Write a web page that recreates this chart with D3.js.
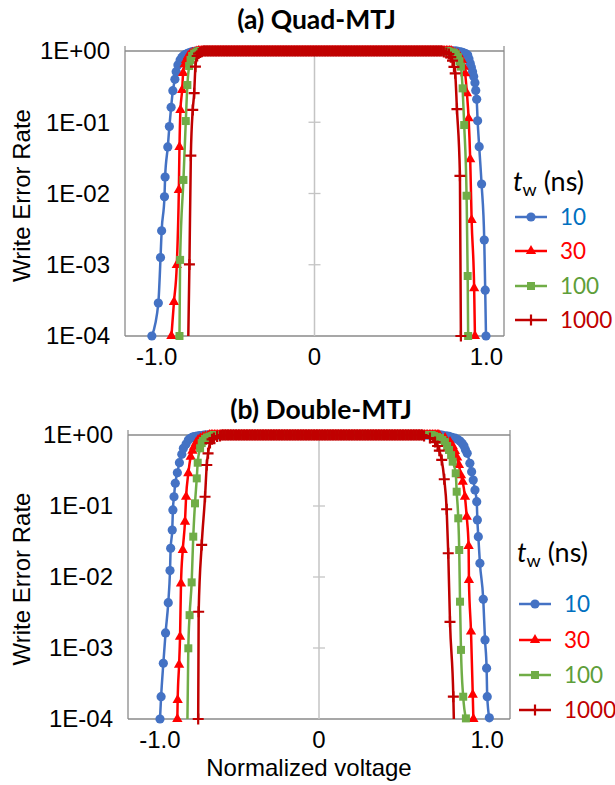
<!DOCTYPE html>
<html><head><meta charset="utf-8">
<script src="https://cdn.jsdelivr.net/npm/d3@7"></script>
<style>body{margin:0;background:#fff}svg{display:block}</style>
</head><body>
<svg id="chart" width="615" height="785"></svg>
<script>
// ---------------- DATA (normalized voltage, write error rate) ----------------
const seriesNames = ["10", "30", "100", "1000"];   // t_w (ns)
const yTickValues = [1, 1e-1, 1e-2, 1e-3, 1e-4];
const yTickLabels = ["1E+00", "1E-01", "1E-02", "1E-03", "1E-04"];
const xTickValues = [-1.2, -0.6, 0, 0.6, 1.2];
const xLabelValues = [-1.0, 0, 1.0];
const xLabelTexts = ["-1.0", "0", "1.0"];
const plateauWER = 1;      // flat top of every curve (1E+00)
const plateauStep = 0.01;  // voltage spacing of the points along the flat top

// (a) Quad-MTJ
const quad10V = [-1.030,-0.989,-0.975,-0.968,-0.950,-0.946,-0.929,-0.919,-0.908,-0.897,-0.884,-0.876,-0.865,-0.851,-0.840,-0.832,-0.820,-0.806,-0.795,-0.781,-0.770,-0.760,-0.749,
  0.908,0.920,0.930,0.940,0.950,0.960,0.970,0.978,0.986,0.993,1.001,1.008,1.016,1.021,1.027,1.033,1.043,1.058,1.075,1.081,1.086];
const quad10W = [1.0e-4,2.9e-4,1.26e-3,3.0e-3,9.0e-3,1.7e-2,4.5e-2,8.7e-2,0.162,0.277,0.401,0.512,0.637,0.748,0.81,0.851,0.89,0.923,0.945,0.968,0.98,0.988,0.99,
  0.984,0.975,0.965,0.953,0.93,0.91,0.879,0.78,0.671,0.59,0.512,0.44,0.359,0.28,0.210,0.105,0.0454,0.0136,2.22e-3,4.4e-4,1.0e-4];
const quad30V = [-0.906,-0.890,-0.872,-0.859,-0.855,-0.849,-0.838,-0.832,-0.822,-0.813,-0.800,-0.787,-0.772,-0.756,-0.745,
  0.876,0.890,0.908,0.920,0.933,0.945,0.954,0.965,0.976,0.986,0.995,1.011,1.016];
const quad30W = [1.0e-4,3.0e-4,9.9e-4,1.12e-2,4.5e-2,0.149,0.284,0.491,0.65,0.748,0.85,0.908,0.95,0.968,0.985,
  0.968,0.94,0.908,0.83,0.748,0.6,0.486,0.256,0.1135,0.0302,4.25e-3,4.68e-4,1.0e-4];
const quad100V = [-0.855,-0.851,-0.830,-0.815,-0.805,-0.794,-0.785,-0.775,-0.762,-0.749,-0.738,
  0.851,0.870,0.883,0.895,0.908,0.918,0.927,0.938,0.948,0.963,0.970,0.973];
const quad100W = [1.0e-4,1.17e-3,1.55e-2,0.104,0.333,0.615,0.75,0.851,0.92,0.953,0.98,
  0.977,0.96,0.937,0.9,0.824,0.72,0.603,0.299,0.0914,9.3e-3,6.95e-4,1.0e-4];
const quad1000V = [-0.800,-0.792,-0.783,-0.771,-0.762,-0.754,-0.743,-0.734,-0.724,-0.714,
  0.819,0.835,0.851,0.863,0.874,0.883,0.891,0.902,0.921,0.927];
const quad1000W = [7.5e-5,1.01e-3,3.4e-2,0.149,0.256,0.603,0.851,0.92,0.953,0.975,
  0.968,0.94,0.908,0.82,0.731,0.6,0.486,0.153,1.77e-2,1.0e-4];

// (b) Double-MTJ
const dbl10V = [-0.999,-0.992,-0.978,-0.964,-0.947,-0.936,-0.932,-0.922,-0.918,-0.911,-0.903,-0.890,-0.877,-0.862,-0.852,-0.835,-0.821,-0.810,-0.798,-0.785,-0.767,-0.750,-0.729,
  0.779,0.800,0.817,0.835,0.854,0.870,0.886,0.900,0.911,0.920,0.931,0.948,0.959,0.969,0.980,0.991,0.995,1.001,1.011,1.032,1.043,1.053,1.057,1.070];
const dbl10W = [1.0e-4,2.06e-4,6.1e-4,1.63e-3,4.35e-3,1.23e-2,2.54e-2,4.59e-2,8.8e-2,0.135,0.209,0.294,0.407,0.535,0.65,0.746,0.851,0.89,0.923,0.95,0.968,0.98,0.99,
  0.984,0.975,0.959,0.93,0.908,0.87,0.822,0.76,0.70,0.62,0.552,0.399,0.304,0.232,0.168,0.115,0.0636,0.037,0.0156,4.85e-3,1.30e-3,5.2e-4,2.06e-4,1.04e-4];
const dbl30V = [-0.890,-0.888,-0.879,-0.873,-0.867,-0.856,-0.842,-0.835,-0.821,-0.806,-0.795,-0.785,-0.772,-0.760,-0.745,-0.729,-0.713,-0.697,
  0.760,0.792,0.823,0.840,0.854,0.868,0.879,0.892,0.903,0.917,0.928,0.940,0.942,0.955,0.966,0.970];
const dbl30W = [1.0e-4,1.85e-4,5.8e-4,1.44e-3,8.1e-3,2.4e-2,6.0e-2,0.135,0.289,0.494,0.6,0.684,0.78,0.851,0.9,0.938,0.96,0.977,
  0.959,0.908,0.796,0.70,0.596,0.48,0.378,0.27,0.22,0.135,0.0706,0.0274,9.1e-3,1.7e-3,2.2e-4,1.0e-4];
const dbl100V = [-0.827,-0.821,-0.813,-0.800,-0.790,-0.779,-0.768,-0.762,-0.747,-0.737,-0.729,-0.716,-0.704,-0.688,-0.672,
  0.722,0.742,0.760,0.775,0.791,0.805,0.817,0.830,0.840,0.859,0.865,0.875,0.881,0.886,0.892,0.906,0.923];
const dbl100W = [8.2e-5,9.9e-4,2.9e-3,8.4e-3,3.7e-2,0.109,0.245,0.407,0.65,0.77,0.822,0.88,0.923,0.95,0.968,
  0.968,0.94,0.908,0.85,0.796,0.7,0.615,0.52,0.421,0.289,0.159,0.0671,0.024,4.49e-3,9.4e-4,2.06e-4,1.02e-4];
const dbl1000V = [-0.759,-0.756,-0.737,-0.716,-0.705,-0.697,-0.685,-0.672,-0.660,-0.640,-0.622,
  0.660,0.697,0.729,0.745,0.756,0.771,0.787,0.802,0.812,0.823,0.844,0.848];
const dbl1000W = [1.0e-4,3.24e-3,2.83e-2,0.135,0.378,0.552,0.77,0.87,0.908,0.95,0.968,
  0.968,0.908,0.796,0.7,0.601,0.445,0.238,0.09,0.0216,2.34e-3,2.06e-4,8.2e-5];

// ---------------- STYLE / LAYOUT ----------------
const styles = [
  {line:"#4472C4", text:"#0070C0", marker:"circle"},
  {line:"#FF0000", text:"#FF0000", marker:"triangle"},
  {line:"#70AD47", text:"#5E9E3A", marker:"square"},
  {line:"#C00000", text:"#C00000", marker:"plus"}
];
const panels = [
  {title:"(a) Quad-MTJ", titleY:29, top:51, bottom:336, left:125, right:504,
   V:[quad10V,quad30V,quad100V,quad1000V], W:[quad10W,quad30W,quad100W,quad1000W],
   legTitleY:191, legY:[217,251,286,320], legX:515},
  {title:"(b) Double-MTJ", titleY:419, top:435, bottom:719, left:128, right:510,
   V:[dbl10V,dbl30V,dbl100V,dbl1000V], W:[dbl10W,dbl30W,dbl100W,dbl1000W],
   legTitleY:562, legY:[604,640,675,710], legX:519}
];
const axisGray = "#8a8a8a";
const arial = "'Liberation Sans', Arial, sans-serif";
const calibri = "Lato, 'Open Sans', sans-serif";

const svg = d3.select("#chart");

function buildSeries(vs, ws) {
  const pts = vs.map((v, i) => [v, ws[i]]).sort((a, b) => a[0] - b[0]);
  const out = [];
  for (let i = 0; i < pts.length; i++) {
    out.push(pts[i]);
    if (i < pts.length - 1 && pts[i][0] < 0 && pts[i + 1][0] > 0) {
      d3.range(pts[i][0] + plateauStep, pts[i + 1][0] - plateauStep / 2, plateauStep)
        .forEach(v => out.push([v, plateauWER]));
    }
  }
  return out;
}

function drawMarker(g, type, x, y, color) {
  if (type === "circle") {
    g.append("circle").attr("cx", x).attr("cy", y).attr("r", 4.6).attr("fill", color);
  } else if (type === "triangle") {
    g.append("path").attr("d", d3.symbol(d3.symbolTriangle, 46)())
      .attr("transform", `translate(${x},${y})`).attr("fill", color);
  } else if (type === "square") {
    g.append("rect").attr("x", x - 4).attr("y", y - 4).attr("width", 8).attr("height", 8).attr("fill", color);
  } else {
    g.append("path").attr("d", `M${x - 5.5},${y}H${x + 5.5}M${x},${y - 5.5}V${y + 5.5}`)
      .attr("stroke", color).attr("stroke-width", 2.2).attr("fill", "none");
  }
}

panels.forEach((p, pi) => {
  const x = d3.scaleLinear().domain([-1.2, 1.2]).range([p.left, p.right]);
  const y = d3.scaleLog().domain([1e-4, 1]).range([p.bottom, p.top]);
  const g = svg.append("g");

  // frame
  g.append("line").attr("x1", p.left).attr("x2", p.left).attr("y1", p.top).attr("y2", p.bottom).attr("stroke", axisGray).attr("stroke-width", 1.3);
  g.append("line").attr("x1", p.right).attr("x2", p.right).attr("y1", p.top).attr("y2", p.bottom).attr("stroke", axisGray).attr("stroke-width", 1.3);
  g.append("line").attr("x1", p.left).attr("x2", p.right).attr("y1", p.bottom).attr("y2", p.bottom).attr("stroke", axisGray).attr("stroke-width", 1.3);
  g.append("line").attr("x1", p.left).attr("x2", p.right).attr("y1", p.top).attr("y2", p.top).attr("stroke", axisGray).attr("stroke-width", 1.3);
  xTickValues.forEach(v => {
    g.append("line").attr("x1", x(v)).attr("x2", x(v)).attr("y1", p.top).attr("y2", p.top - 5).attr("stroke", axisGray).attr("stroke-width", 1.2);
  });
  // center y axis (V = 0)
  g.append("line").attr("x1", x(0)).attr("x2", x(0)).attr("y1", p.top).attr("y2", p.bottom).attr("stroke", "#c4c4c4").attr("stroke-width", 1.5);
  yTickValues.slice(1, -1).forEach(v => {
    g.append("line").attr("x1", x(0) - 6).attr("x2", x(0) + 6).attr("y1", y(v)).attr("y2", y(v)).attr("stroke", "#c4c4c4").attr("stroke-width", 1.3);
  });

  // y tick labels
  yTickValues.forEach((v, i) => {
    g.append("text").attr("x", p.left - 15).attr("y", y(v)).attr("dy", "0.35em")
      .attr("text-anchor", "end").attr("font-family", arial).attr("font-size", 24).attr("fill", "#000")
      .text(yTickLabels[i]);
  });
  // x labels
  xLabelValues.forEach((v, i) => {
    g.append("text").attr("x", x(v) + (v > 0 ? (pi === 0 ? 14 : 9) : 0)).attr("y", p.bottom + 29)
      .attr("text-anchor", "middle").attr("font-family", arial).attr("font-size", 24).attr("fill", "#000")
      .text(xLabelTexts[i]);
  });
  // y axis title
  g.append("text").attr("transform", `translate(30,${(p.top + p.bottom) / 2 + 2}) rotate(-90)`)
    .attr("text-anchor", "middle").attr("font-family", arial).attr("font-size", 24).attr("fill", "#000")
    .text("Write Error Rate");
  // panel title
  g.append("text").attr("x", (p.left + p.right) / 2 + 2).attr("y", p.titleY)
    .attr("text-anchor", "middle").attr("font-family", calibri).attr("font-weight", "bold")
    .attr("font-size", 26.5).attr("fill", "#000").text(p.title);

  // clip for lines
  const clipId = "clip" + pi;
  svg.append("clipPath").attr("id", clipId).append("rect")
    .attr("x", p.left - 30).attr("y", p.top - 30).attr("width", p.right - p.left + 60).attr("height", p.bottom - p.top + 30);

  const line = d3.line().x(d => x(d[0])).y(d => y(d[1])).curve(d3.curveMonotoneX);
  seriesNames.forEach((name, si) => {
    const st = styles[si];
    const data = buildSeries(p.V[si], p.W[si]);
    const sg = g.append("g");
    sg.append("path").datum(data).attr("d", line).attr("fill", "none")
      .attr("stroke", st.line).attr("stroke-width", 2.5).attr("clip-path", `url(#${clipId})`);
    data.filter(d => d[1] >= 0.99e-4).forEach(d => drawMarker(sg, st.marker, x(d[0]), y(d[1]), st.line));
  });

  // legend
  const lg = g.append("g");
  const lt = lg.append("text").attr("x", p.legX - 2).attr("y", p.legTitleY)
    .attr("font-family", calibri).attr("font-size", 27).attr("fill", "#000");
  lt.append("tspan").attr("font-style", "italic").text("t");
  lt.append("tspan").attr("font-size", 18).attr("dy", 5).text("w");
  lt.append("tspan").attr("dy", -5).text(" (ns)");
  seriesNames.forEach((name, si) => {
    const st = styles[si];
    const ly = p.legY[si];
    lg.append("line").attr("x1", p.legX).attr("x2", p.legX + 32).attr("y1", ly).attr("y2", ly)
      .attr("stroke", st.line).attr("stroke-width", 2.5);
    drawMarker(lg, st.marker, p.legX + 16, ly, st.line);
    lg.append("text").attr("x", p.legX + 45).attr("y", ly).attr("dy", "0.35em")
      .attr("font-family", calibri).attr("font-size", 22.5).attr("fill", st.text).text(name);
  });
});

// x axis title
svg.append("text").attr("x", 309).attr("y", 776).attr("text-anchor", "middle")
  .attr("font-family", arial).attr("font-size", 24).attr("fill", "#000").text("Normalized voltage");
</script>
</body></html>
